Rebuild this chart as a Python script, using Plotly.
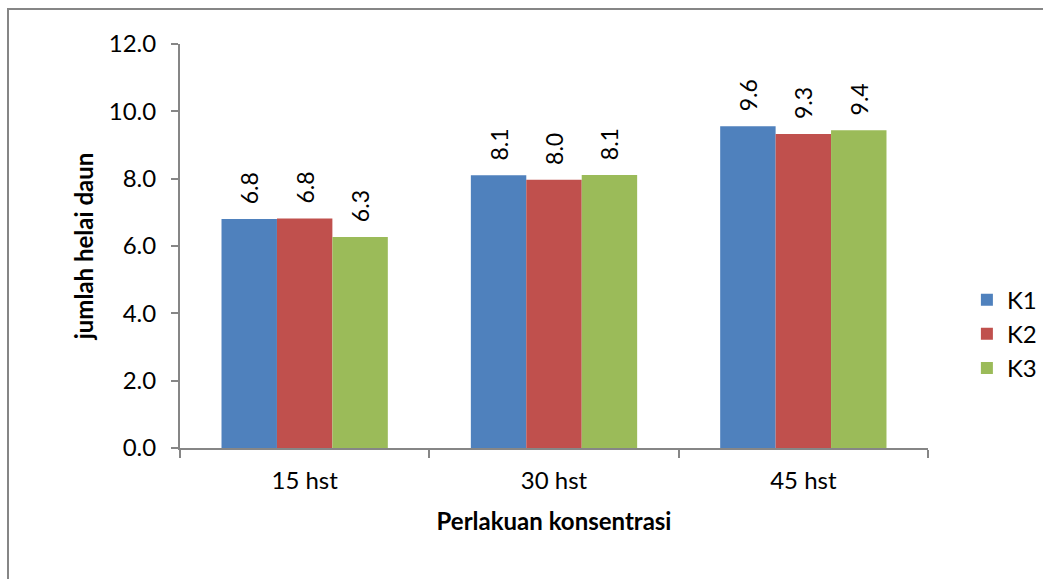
import plotly.graph_objects as go

categories = ["15 hst", "30 hst", "45 hst"]
series_names = ["K1", "K2", "K3"]
k1 = [6.8, 8.1, 9.56]
k2 = [6.82, 7.97, 9.33]
k3 = [6.27, 8.11, 9.44]
colors = ["#4F81BD", "#C0504D", "#9BBB59"]
y_ticks = [0, 2, 4, 6, 8, 10, 12]
y_ticklabels = ["0.0", "2.0", "4.0", "6.0", "8.0", "10.0", "12.0"]

FONT = "Lato"
FS = 24
fig = go.Figure()
for name, vals, col in zip(series_names, [k1, k2, k3], colors):
    fig.add_trace(go.Bar(
        x=categories, y=vals, name=name,
        marker=dict(color=col, line=dict(width=0)),
        text=["\u00a0\u00a0" + f"{v:.1f}" for v in vals],
        textposition="outside", textangle=-90, constraintext="none",
        textfont=dict(family=FONT, size=23, color="black"),
        cliponaxis=False,
    ))

fig.update_layout(
    template="none",
    width=1043, height=579,
    margin=dict(l=180, r=115, t=44, b=131, autoexpand=False),
    plot_bgcolor="white", paper_bgcolor="white",
    barmode="group", bargap=0.333, bargroupgap=0,
    font=dict(family=FONT, size=FS, color="black"),
    showlegend=True,
    legend=dict(x=1.052, y=0.282, xanchor="left", yanchor="middle",
                font=dict(family=FONT, size=FS), itemsizing="constant",
                tracegroupgap=0, bgcolor="rgba(0,0,0,0)"),
    uniformtext=dict(mode=False),
)
fig.update_xaxes(
    automargin=False,
    showline=True, linecolor="#868686", linewidth=2,
    ticks="outside", tickson="boundaries", ticklen=8, tickcolor="#868686", tickwidth=2,
    tickfont=dict(family=FONT, size=FS), ticklabelstandoff=10,
    showgrid=False,
    title=dict(text="<b>Perlakuan konsentrasi</b>", font=dict(family=FONT, size=FS), standoff=20),
)
fig.update_yaxes(
    automargin=False,
    range=[0, 12], tickvals=y_ticks, ticktext=y_ticklabels,
    showline=True, linecolor="#868686", linewidth=2,
    ticks="outside", ticklen=7, tickcolor="#868686", tickwidth=2,
    showgrid=False, zeroline=False,
    tickfont=dict(family=FONT, size=FS), ticklabelstandoff=10,
    title=dict(text="<b>jumlah helai daun</b>", font=dict(family=FONT, size=FS), standoff=8),
)
# outer chart border
fig.add_shape(type="rect", xref="paper", yref="paper",
              x0=(8 - 180) / 748, x1=(1060 - 180) / 748,
              y0=(448 - 600) / 404, y1=(448 - 9) / 404,
              line=dict(color="#868686", width=2), layer="below")

fig.write_html("out.html", config={"displayModeBar": False},
               post_script="document.body.style.margin='0px';")
